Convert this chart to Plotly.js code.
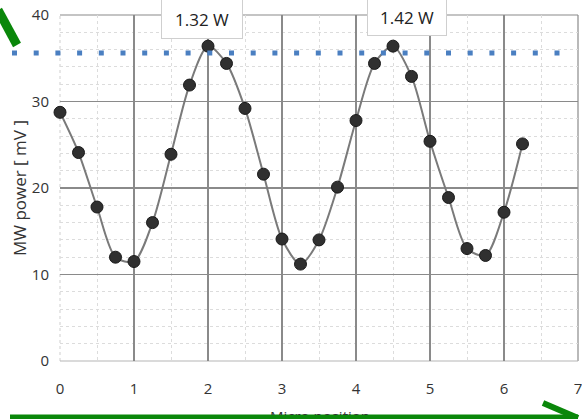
<!DOCTYPE html>
<html>
<head>
<meta charset="utf-8">
<script src="https://cdn.plot.ly/plotly-3.0.1.min.js"></script>
<style>html,body{margin:0;padding:0;background:#fff;}#chart{width:582px;height:419px;}</style>
</head>
<body>
<div id="chart"></div>
<script>
// Data
const positions = [0, 0.25, 0.5, 0.75, 1.0, 1.25, 1.5, 1.75, 2.0, 2.25, 2.5, 2.75, 3.0, 3.25, 3.5, 3.75, 4.0, 4.25, 4.5, 4.75, 5.0, 5.25, 5.5, 5.75, 6.0, 6.25];
const powerMv = [28.75, 24.1, 17.8, 12.0, 11.5, 16.0, 23.9, 31.9, 36.4, 34.4, 29.2, 21.6, 14.1, 11.2, 14.0, 20.1, 27.8, 34.4, 36.4, 32.9, 25.4, 18.9, 13.0, 12.2, 17.2, 25.1];
const thresholdMv = 35.6;
const peakLabels = ["1.32 W", "1.42 W"];
const xTickVals = [0, 1, 2, 3, 4, 5, 6, 7];
const yTickVals = [0, 10, 20, 30, 40];
const xTitle = "Micro position";
const yTitle = "MW power [ mV ]";

const font = '"Open Sans", "Liberation Sans", sans-serif';
const px = v => (v - 60) / 518;       // pixel -> paper x
const py = v => (361 - v) / 346;      // pixel -> paper y

const traces = [
  {
    x: positions, y: powerMv, type: 'scatter', mode: 'lines+markers',
    line: {shape: 'spline', smoothing: 0.8, color: '#7a7a7a', width: 2},
    marker: {size: 12, color: '#303030', line: {color: '#1a1a1a', width: 1}},
    hoverinfo: 'skip', showlegend: false, cliponaxis: false
  }
];

const layout = {
  width: 582, height: 419,
  margin: {l: 60, r: 4, t: 15, b: 58},
  paper_bgcolor: '#fff', plot_bgcolor: '#fff',
  showlegend: false,
  xaxis: {
    range: [0, 7], tickvals: xTickVals, ticks: '', showline: false, zeroline: false,
    showgrid: true, gridcolor: '#8a8a8a', gridwidth: 1.2,
    minor: {dtick: 0.5, showgrid: true, gridcolor: '#dcdcdc', griddash: 'dot', gridwidth: 1},
    tickfont: {family: font, size: 15, color: '#333'},
    ticklabelstandoff: 17, ticklabeloverflow: 'allow', fixedrange: true
  },
  yaxis: {
    range: [0, 40], tickvals: yTickVals, ticks: '', showline: false, zeroline: false,
    showgrid: true, gridcolor: '#8a8a8a', gridwidth: 1.2,
    minor: {dtick: 2, showgrid: true, gridcolor: '#dcdcdc', griddash: 'dot', gridwidth: 1},
    tickfont: {family: font, size: 15, color: '#333'},
    ticklabelstandoff: 10, fixedrange: true
  },
  shapes: [
    // plot frame lines (top and right darker, left/bottom lighter)
    {type: 'line', xref: 'paper', yref: 'paper', x0: 0, x1: 1, y0: 1, y1: 1, line: {color: '#8a8a8a', width: 1.2}, layer: 'below'},
    {type: 'line', xref: 'paper', yref: 'paper', x0: 1, x1: 1, y0: 0, y1: 1, line: {color: '#8a8a8a', width: 1.2}, layer: 'below'},
    {type: 'line', xref: 'paper', yref: 'paper', x0: 0, x1: 0, y0: 0, y1: 1, line: {color: '#cfcfcf', width: 1, dash: 'dot'}, layer: 'below'},
    {type: 'line', xref: 'paper', yref: 'paper', x0: 0, x1: 1, y0: 0, y1: 0, line: {color: '#b5b5b5', width: 1.2}, layer: 'below'},
    // threshold dotted line
    {type: 'line', xref: 'paper', yref: 'paper', x0: px(12), x1: px(562), y0: thresholdMv / 40, y1: thresholdMv / 40,
     line: {color: '#4a7fc1', width: 5, dash: '5px,16.7px'}},
    // green arrow fragments
    {type: 'line', xref: 'paper', yref: 'paper', x0: px(-2), x1: px(17), y0: py(10), y1: py(45),
     line: {color: '#0a870a', width: 9}},
    {type: 'line', xref: 'paper', yref: 'paper', x0: px(10), x1: px(578), y0: py(417), y1: py(417),
     line: {color: '#0a870a', width: 5}},
    {type: 'line', xref: 'paper', yref: 'paper', x0: px(543), x1: px(578), y0: py(403), y1: py(418),
     line: {color: '#0a870a', width: 6}}
  ],
  annotations: [
    {xref: 'paper', yref: 'paper', x: px(202), y: py(19), xanchor: 'center', yanchor: 'middle',
     text: peakLabels[0], showarrow: false, width: 80, height: 38, borderpad: 0, borderwidth: 1,
     bordercolor: '#cfcfcf', bgcolor: '#fff', font: {family: font, size: 17, color: '#222'}},
    {xref: 'paper', yref: 'paper', x: px(407), y: py(17), xanchor: 'center', yanchor: 'middle',
     text: peakLabels[1], showarrow: false, width: 78, height: 35, borderpad: 0, borderwidth: 1,
     bordercolor: '#cfcfcf', bgcolor: '#fff', font: {family: font, size: 17, color: '#222'}},
    {xref: 'paper', yref: 'paper', x: px(19), y: py(188), xanchor: 'center', yanchor: 'middle',
     text: yTitle, textangle: -90, showarrow: false, font: {family: font, size: 17, color: '#333'}},
    // x title: only the top part is visible above the green line, as in the reference
    {xref: 'paper', yref: 'paper', x: px(320), y: py(405), xanchor: 'center', yanchor: 'top',
     text: xTitle, showarrow: false, width: 130, height: 9, valign: 'top', borderpad: 0,
     font: {family: font, size: 15, color: '#333'}}
  ]
};

Plotly.newPlot('chart', traces, layout, {displayModeBar: false, staticPlot: true});
</script>
</body>
</html>
